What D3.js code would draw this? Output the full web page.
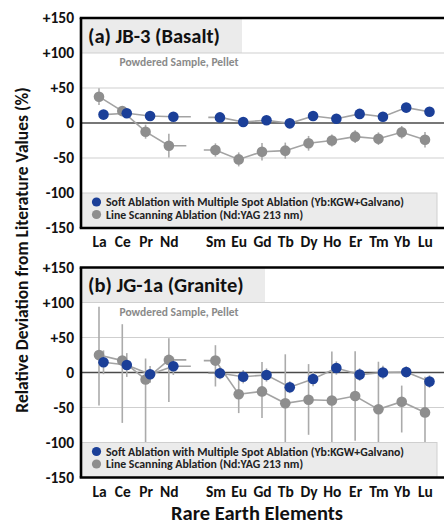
<!DOCTYPE html>
<html><head><meta charset="utf-8">
<script src="https://cdn.jsdelivr.net/npm/d3@7/dist/d3.min.js"></script>
<style>
html,body{margin:0;padding:0;background:#fff;overflow:hidden}
text{font-family:Carlito, Lato, "Open Sans", sans-serif}
</style></head>
<body>
<svg id="chart" width="444" height="526"></svg>
<script>
// ---------------- DATA ----------------
const categories = ["La","Ce","Pr","Nd","Pm","Sm","Eu","Gd","Tb","Dy","Ho","Er","Tm","Yb","Lu"];
const tickLabels = ["La","Ce","Pr","Nd","","Sm","Eu","Gd","Tb","Dy","Ho","Er","Tm","Yb","Lu"];
const yTicks = [150,100,50,0,-50,-100,-150];
const yTickLabels = ["+150","+100","+50","0","-50","-100","-150"];
const seriesNames = ["Soft Ablation with Multiple Spot Ablation (Yb:KGW+Galvano)","Line Scanning Ablation (Nd:YAG 213 nm)"];
const panelTitles = ["(a) JB-3 (Basalt)","(b) JG-1a (Granite)"];
const panelSubtitle = "Powdered Sample, Pellet";

// Panel (a) JB-3
const softA      = [12,14,10,9,null,8,1.5,4,-0.5,10,6,13,9,22,16];
const softAErr   = [4,4,4,4,null,4,4,4,4,4,4,4,4,4,4];
const lineA      = [37.6,17,-12.4,-32.4,null,-38.6,-52,-41,-39.5,-29,-25,-19.5,-22.4,-13.3,-24];
const lineAErr   = [12,4,10,17,null,9.5,10,12.5,11.5,10.5,8.5,9,9,9,11];

// Panel (b) JG-1a
const softB      = [14.6,10.7,-2.6,9,null,-1,-6,-3.6,-21,-9.3,6.4,-3,0,0.7,-13];
const softBErr   = [17,17,12,12.5,null,8.5,9.5,9.5,8.5,10.5,9.5,9,9.5,8,9];
const lineB      = [25,17,-10,18,null,17,-31,-27,-44,-39,-40,-33.6,-52.6,-41.7,-57];
const lineBErrUp   = [69,52,30,31,null,22,27,42,70,51,70,64,68,23,51];
const lineBErrDown = [72,89,95,60,null,37,27,38,70,50,70,64,68,44,51];

// ---------------- LAYOUT ----------------
const svg = d3.select("#chart");
const plotLeft = 81, plotRight = 452;
const panels = [
  {top:18, bottom:228, titleRight:242, title:panelTitles[0],
   soft:softA, softUp:softAErr, softDown:softAErr, line:lineA, lineUp:lineAErr, lineDown:lineAErr},
  {top:267.5, bottom:477.5, titleRight:265, title:panelTitles[1],
   soft:softB, softUp:softBErr, softDown:softBErr, line:lineB, lineUp:lineBErrUp, lineDown:lineBErrDown}
];
const x = d3.scalePoint().domain(categories).range([99, 425]);
const step = x.step();
const blueOff = 4.5, grayOff = 0;
const BLUE = "#1b3f98", GRAY_M = "#8e8e8e", GRAY_L = "#a3a3a3", ERR = "#ababab";
const FONT = "Carlito, Lato, 'Open Sans', sans-serif";

panels.forEach((p, pi) => {
  const g = svg.append("g");
  const y = d3.scaleLinear().domain([-150,150]).range([p.bottom, p.top]);

  // title box
  g.append("rect").attr("x", plotLeft).attr("y", y(150)).attr("width", p.titleRight - plotLeft)
    .attr("height", y(100) - y(150)).attr("fill", "#ebebeb");

  // gridlines
  [100,50,-50].forEach(v => {
    g.append("line").attr("x1", plotLeft).attr("x2", plotRight).attr("y1", y(v)).attr("y2", y(v))
      .attr("stroke", "#cfcfcf").attr("stroke-width", 1.2);
  });
  g.append("line").attr("x1", plotLeft).attr("x2", plotRight).attr("y1", y(0)).attr("y2", y(0))
    .attr("stroke", "#4a4a4a").attr("stroke-width", 1.6);

  // series
  const series = [
    {vals:p.line, up:p.lineUp, down:p.lineDown, off:grayOff, color:GRAY_M},
    {vals:p.soft, up:p.softUp, down:p.softDown, off:blueOff, color:BLUE}
  ];
  // error bars
  series.forEach(s => {
    s.vals.forEach((v,i) => {
      if (v == null) return;
      const cx = x(categories[i]) + s.off;
      g.append("line").attr("x1", cx).attr("x2", cx)
        .attr("y1", y(v + s.up[i])).attr("y2", y(v - s.down[i]))
        .attr("stroke", ERR).attr("stroke-width", 1.6);
    });
  });
  // lines (with stubs at the Pm gap)
  series.forEach(s => {
    const segs = [[]];
    s.vals.forEach((v,i) => {
      if (v == null) {
        const prev = segs[segs.length-1];
        if (prev.length) prev.push([prev[prev.length-1][0] + step*0.75, prev[prev.length-1][1]]);
        segs.push([{stub:true}]);
        return;
      }
      const cur = segs[segs.length-1];
      const pt = [x(categories[i]) + s.off, y(v)];
      if (cur.length === 1 && cur[0].stub) { cur.pop(); cur.push([pt[0] - step*0.5, pt[1]]); }
      cur.push(pt);
    });
    segs.forEach(seg => {
      if (seg.length < 2) return;
      g.append("path").attr("d", d3.line()(seg)).attr("fill", "none")
        .attr("stroke", GRAY_L).attr("stroke-width", 1.6);
    });
  });
  // markers
  series.forEach(s => {
    s.vals.forEach((v,i) => {
      if (v == null) return;
      g.append("circle").attr("cx", x(categories[i]) + s.off).attr("cy", y(v)).attr("r", 5.3)
        .attr("fill", s.color);
    });
  });

  // legend box
  g.append("rect").attr("x", plotLeft).attr("y", y(-100)).attr("width", 437 - plotLeft)
    .attr("height", y(-150) - y(-100)).attr("fill", "#ebebeb").attr("stroke", "#cfcfcf").attr("stroke-width", 1);
  [BLUE, GRAY_M].forEach((c, k) => {
    const ly = y(-100) + 9 + k*12.5;
    g.append("circle").attr("cx", 96.5).attr("cy", ly).attr("r", 4.6).attr("fill", c);
    g.append("text").attr("x", 106).attr("y", ly).attr("dy", "0.35em")
      .attr("font-size", 11.8).attr("font-weight", 700).attr("fill", "#222").text(seriesNames[k]);
  });

  // frame
  g.append("line").attr("x1", plotLeft).attr("x2", plotLeft).attr("y1", p.top).attr("y2", p.bottom)
    .attr("stroke", "#000").attr("stroke-width", 2.6);
  g.append("line").attr("x1", plotLeft-1.3).attr("x2", plotRight).attr("y1", p.top).attr("y2", p.top)
    .attr("stroke", "#000").attr("stroke-width", 2.6);
  g.append("line").attr("x1", plotLeft-1.3).attr("x2", plotRight).attr("y1", p.bottom).attr("y2", p.bottom)
    .attr("stroke", "#000").attr("stroke-width", 2.6);

  // titles
  g.append("text").attr("x", 88).attr("y", y(125)).attr("dy", "0.35em")
    .attr("font-size", 20.5).attr("font-weight", 700).attr("fill", "#111").text(p.title);
  g.append("text").attr("x", 179).attr("y", y(87)).attr("dy", "0.35em").attr("text-anchor", "middle")
    .attr("font-size", 11.5).attr("font-weight", 700).attr("fill", "#8a8a8a").text(panelSubtitle);

  // y axis
  const yAxis = d3.axisLeft(y).tickValues(yTicks).tickSize(0).tickPadding(7)
    .tickFormat((d,i) => yTickLabels[i]);
  const ya = g.append("g").attr("transform", `translate(${plotLeft},0)`).call(yAxis);
  ya.select(".domain").remove();
  ya.selectAll("text").attr("font-size", 15.5).attr("font-weight", 700).attr("fill", "#111")
    .style("font-family", FONT);

  // x axis
  const xAxis = d3.axisBottom(x).tickSize(0).tickPadding(8).tickFormat((d,i) => tickLabels[i]);
  const xa = g.append("g").attr("transform", `translate(0,${p.bottom})`).call(xAxis);
  xa.select(".domain").remove();
  xa.selectAll("text").attr("font-size", 15.5).attr("font-weight", 700).attr("fill", "#111")
    .style("font-family", FONT);
});

// axis titles
svg.append("text").attr("transform", "translate(22,250) rotate(-90)").attr("text-anchor", "middle")
  .attr("dy", "0.35em").attr("font-size", 17.5).attr("font-weight", 700).attr("fill", "#111")
  .text("Relative Deviation from Literature Values (%)");
svg.append("text").attr("x", 257).attr("y", 513).attr("text-anchor", "middle").attr("dy", "0.35em")
  .attr("font-size", 20.5).attr("font-weight", 700).attr("fill", "#111").text("Rare Earth Elements");
</script>
</body></html>
